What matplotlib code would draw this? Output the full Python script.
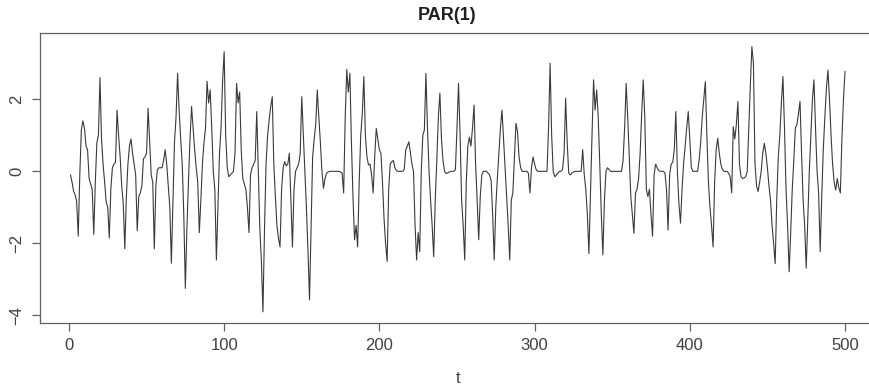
import matplotlib
matplotlib.use("Agg")
import matplotlib.pyplot as plt
import numpy as np

# PAR(1) series, values, t = 1..500
par1 = [
    -0.1, -0.3, -0.55, -0.65, -0.85, -1.8, -0.1, 1.15, 1.4, 1.2,
    0.7, 0.6, -0.2, -0.35, -0.5, -1.75, -0.3, 0.8, 1.0, 2.6,
    0.9, 0.2, -0.3, -0.85, -1.0, -1.85, -0.5, 0.1, 0.2, 0.25,
    1.7, 1.0, 0.4, -0.4, -0.9, -2.15, -0.7, 0.2, 0.7, 0.9,
    0.5, 0.2, -0.1, -1.65, -0.7, -0.6, -0.4, 0.35, 0.4, 0.5,
    1.75, 0.8, -0.1, -0.3, -2.15, -0.4, 0.05, 0.1, 0.1, 0.1,
    0.3, 0.6, 0.2, -0.4, -1.0, -2.55, -0.9, 0.8, 1.5, 2.72,
    1.7, 0.9, 0.2, -1.2, -3.25, -1.6, -0.3, 0.9, 1.8, 1.2,
    0.6, 0.1, -0.3, -1.7, -0.8, 0.2, 0.8, 1.2, 2.5, 1.9,
    2.26, 1.2, 0.0, -0.5, -2.46, -1.0, 0.5, 1.2, 2.5, 3.32,
    1.0, 0.1, -0.15, -0.1, -0.05, 0.0, 0.5, 2.44, 1.9, 2.2,
    0.6, -0.2, -0.35, -0.5, -1.0, -1.7, -0.1, 0.1, 0.2, 0.3,
    1.66, 0.0, -1.6, -2.5, -3.9, -1.6, 0.2, 1.0, 1.43, 1.8,
    2.07, 0.2, -0.7, -1.5, -1.86, -2.1, -0.5, 0.1, 0.27, 0.15,
    0.2, 0.5, -0.8, -2.1, -0.5, 0.0, 0.1, 0.2, 0.5, 2.07,
    1.0, 0.0, -1.0, -2.2, -3.57, -1.6, 0.4, 0.9, 1.3, 2.26,
    1.5, 0.8, 0.0, -0.47, -0.2, -0.05, -0.02, 0.0, 0.0, 0.0,
    0.0, 0.0, 0.0, 0.0, -0.02, -0.05, -0.6, 1.5, 2.83, 2.2,
    2.72, 0.8, -0.7, -1.9, -1.5, -2.1, -0.3, 1.0, 1.6, 2.63,
    1.0, 0.4, 0.18, 0.2, -0.1, -0.6, 0.4, 1.19, 0.9, 0.6,
    0.5, -0.3, -1.3, -2.0, -2.5, -0.5, 0.2, 0.27, 0.3, 0.1,
    0.02, 0.0, 0.0, 0.0, 0.0, 0.05, 0.6, 0.7, 0.82, 0.5,
    0.2, 0.0, -1.5, -2.46, -1.7, -2.23, 0.0, 1.0, 1.15, 2.72,
    1.2, 0.0, -0.8, -1.5, -2.37, -0.8, 0.3, 1.5, 2.17, 0.9,
    0.3, 0.0, -0.06, -0.04, -0.02, 0.0, 0.0, 0.0, 0.05, 1.2,
    2.44, 1.0, -0.8, -1.5, -2.46, -0.3, 0.7, 0.95, 0.7, 1.2,
    1.84, 0.2, -0.8, -1.9, -0.7, -0.1, 0.0, 0.0, 0.0, -0.05,
    -0.1, -0.25, -1.2, -2.46, -1.0, -0.2, 0.5, 1.2, 1.7, 0.9,
    0.1, -0.7, -1.5, -2.46, -0.8, -0.6, 0.4, 1.33, 1.1, 0.4,
    0.1, 0.0, 0.0, 0.0, 0.0, -0.05, -0.6, 0.1, 0.4, 0.2,
    0.05, 0.0, 0.0, 0.0, 0.0, 0.0, 0.0, 0.0, 1.2, 3.0,
    1.0, 0.0, -0.15, -0.1, -0.05, 0.0, 0.0, 0.05, 0.5, 2.03,
    0.8, -0.05, -0.1, -0.05, -0.02, 0.0, 0.0, 0.0, 0.0, 0.0,
    0.6, -0.1, -0.5, -1.2, -2.28, -0.6, 1.0, 2.54, 1.7, 2.26,
    1.5, 0.2, -1.2, -2.32, -0.8, 0.0, 0.1, 0.05, 0.0, 0.0,
    0.0, 0.0, 0.0, 0.0, 0.0, 0.0, 0.3, 1.2, 2.44, 1.5,
    0.4, -0.7, -1.2, -1.72, -0.6, -0.5, -0.2, 0.5, 1.6, 2.54,
    1.5, -0.5, -0.7, -0.5, -1.2, -1.8, -0.1, 0.2, 0.1, 0.02,
    0.0, 0.0, 0.0, -0.05, -0.5, -1.63, -0.1, 0.2, 0.25, 0.6,
    1.66, 0.0, -0.9, -1.44, -0.5, 0.2, 0.7, 1.2, 1.66, 0.9,
    0.1, 0.0, 0.0, 0.0, 0.0, 0.3, 0.8, 1.5, 2.0, 2.49,
    1.0, -0.3, -1.0, -1.5, -2.1, -0.3, 0.6, 0.92, 0.5, 0.2,
    0.05, 0.0, 0.0, 0.0, -0.05, -0.15, -0.6, 1.24, 0.9, 1.3,
    1.94, 0.2, -0.15, -0.2, -0.18, -0.15, 0.0, 1.2, 2.4, 3.46,
    3.0, 0.2, -0.4, -0.56, -0.3, 0.0, 0.5, 0.78, 0.5, 0.1,
    -0.4, -0.8, -1.5, -2.0, -2.56, -0.8, 0.4, 1.0, 1.9, 2.63,
    1.2, -0.5, -1.5, -2.79, -1.7, -0.5, 0.3, 1.2, 1.3, 1.6,
    1.94, 0.5, -0.8, -1.5, -2.69, -1.3, 0.0, 1.0, 2.0, 2.54,
    1.2, 0.0, -0.6, -2.23, -0.7, 0.6, 1.5, 2.3, 2.81, 2.0,
    1.0, 0.2, -0.3, -0.52, -0.2, -0.45, -0.6, 0.9, 2.0, 2.77,
]
t = np.arange(1, len(par1) + 1)

x_ticks = [0, 100, 200, 300, 400, 500]
y_ticks = [-4, -2, 0, 2]

LINE = "#3a3a3a"
AXIS = "#606060"
TEXT = "#404040"

plt.rcParams["font.family"] = ["Liberation Sans", "DejaVu Sans"]

fig = plt.figure(figsize=(8.7, 3.88), dpi=100)
# R-style box; the right edge runs just past the image border
ax = fig.add_axes([39.5 / 870, 1 - 323 / 388, (876 - 39.5) / 870, 290 / 388])
ax.plot(t, par1, color=LINE, lw=0.8)

ax.set_xlim(-18.96, 519.96)
ax.set_ylim(-4.21, 3.84)
ax.set_xticks(x_ticks)
ax.set_yticks(y_ticks)
ax.tick_params(colors=AXIS, labelcolor=TEXT, labelsize=12, length=6, width=0.9, pad=5)
for lab in ax.get_yticklabels():
    lab.set_rotation(90)
    lab.set_va("center")
for s in ax.spines.values():
    s.set_color(AXIS)
    s.set_linewidth(0.9)

ax.set_xlabel("t", fontsize=12, color=TEXT, labelpad=13)
fig.text(447 / 870, 1 - 16 / 388, "PAR(1)", ha="center", va="center",
         fontsize=13, fontweight="bold", color="#202020")

fig.savefig("out.png", dpi=100)
plt.close(fig)
